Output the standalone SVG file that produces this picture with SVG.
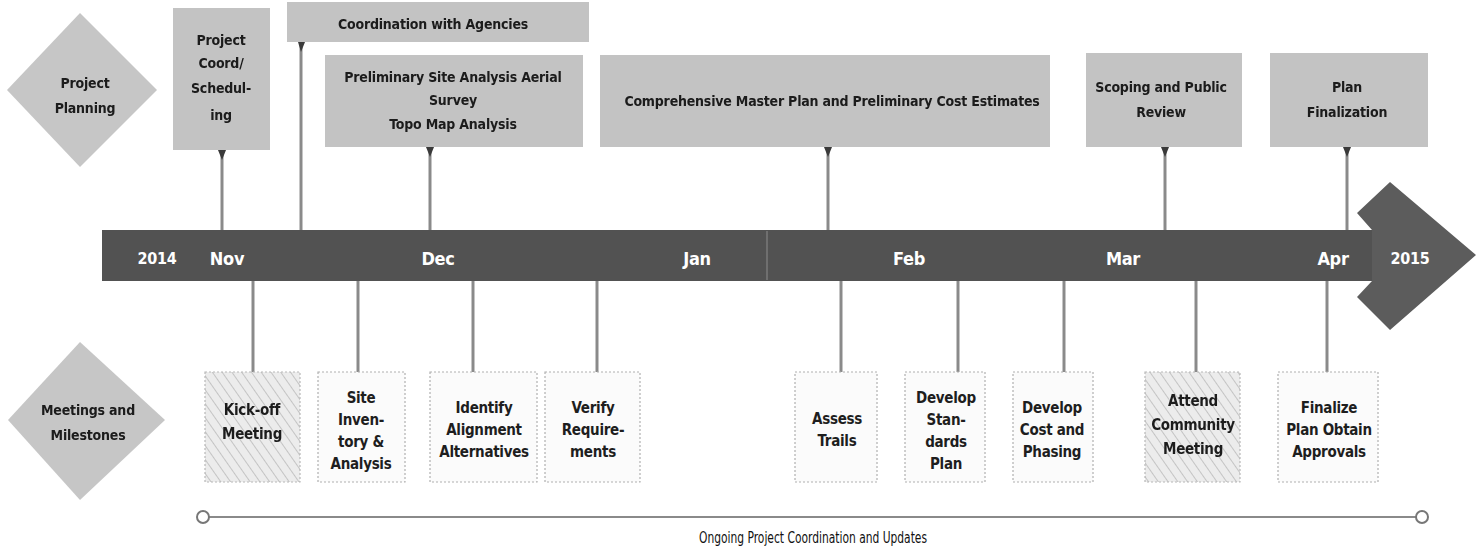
<svg xmlns="http://www.w3.org/2000/svg" width="1480" height="547" viewBox="0 0 1480 547">
<defs>
<pattern id="hatch" width="8" height="8" patternUnits="userSpaceOnUse" patternTransform="rotate(-35)">
<rect width="8" height="8" fill="#ececec"/>
<line x1="0" y1="0" x2="0" y2="8" stroke="#c4c4c4" stroke-width="2"/>
</pattern>
<filter id="soft" x="-5%" y="-20%" width="110%" height="140%"><feGaussianBlur stdDeviation="0.7"/></filter>
</defs>
<style>
text{font-family:"Liberation Sans Narrow","DejaVu Sans Condensed","Liberation Sans",sans-serif;font-weight:bold;text-anchor:middle}
.top{fill:#c3c3c3}
.tt{font-size:14px;letter-spacing:-0.2px;fill:#1a1a1a}
.dia{fill:#c6c6c6}
.bar{fill:#525252}
.tl{font-size:18px;fill:#ffffff;letter-spacing:-0.3px}
.bx{fill:#fbfbfb;stroke:#b0b0b0;stroke-width:1.2;stroke-dasharray:2 2}
.hb{fill:url(#hatch);stroke:#b8b8b8;stroke-width:1.2;stroke-dasharray:2 2}
.bt{font-size:15px;letter-spacing:-0.3px;fill:#1e1e1e}
.con{stroke:#8a8a8a;stroke-width:3;fill:none}
.tip{fill:#3a3a3a}
</style>

<g id="project-planning">
<polygon class="dia" points="80,13 157,90 80,167 7,90"/>
<text class="tt" x="85" y="88" filter="url(#soft)">Project</text>
<text class="tt" x="85" y="113" filter="url(#soft)">Planning</text>
</g>

<g id="project-coord">
<rect class="top" x="173" y="8" width="97" height="142"/>
<text class="tt" x="221" y="45" filter="url(#soft)">Project</text>
<text class="tt" x="221" y="68" filter="url(#soft)">Coord/</text>
<text class="tt" x="221" y="93" filter="url(#soft)">Schedul-</text>
<text class="tt" x="221" y="120" filter="url(#soft)">ing</text>
</g>

<g id="coordination-agencies">
<rect class="top" x="287" y="2" width="302" height="40"/>
<text class="tt" x="433" y="29" filter="url(#soft)">Coordination with Agencies</text>
</g>

<g id="preliminary-site">
<rect class="top" x="325" y="55" width="258" height="92"/>
<text class="tt" x="453" y="82" filter="url(#soft)">Preliminary Site Analysis Aerial</text>
<text class="tt" x="453" y="105" filter="url(#soft)">Survey</text>
<text class="tt" x="453" y="129" filter="url(#soft)">Topo Map Analysis</text>
</g>

<g id="comprehensive">
<rect class="top" x="600" y="55" width="450" height="92"/>
<text class="tt" x="832" y="106" filter="url(#soft)">Comprehensive Master Plan and Preliminary Cost Estimates</text>
</g>

<g id="scoping">
<rect class="top" x="1086" y="53" width="156" height="94"/>
<text class="tt" x="1161" y="92" filter="url(#soft)">Scoping and Public</text>
<text class="tt" x="1161" y="117" filter="url(#soft)">Review</text>
</g>

<g id="plan-finalization">
<rect class="top" x="1270" y="53" width="158" height="94"/>
<text class="tt" x="1347" y="92" filter="url(#soft)">Plan</text>
<text class="tt" x="1347" y="117" filter="url(#soft)">Finalization</text>
</g>

<g id="timeline">
<rect class="bar" x="102" y="230" width="1272" height="51"/>
<polygon fill="#5c5c5c" points="1372,230 1357,213 1390,182 1476,255 1390,330 1357,297 1372,281"/>
<line x1="767" y1="231" x2="767" y2="280" stroke="#8c8c8c" stroke-width="1"/>
<text class="tl" x="157" y="264" style="font-size:16px">2014</text>
<text class="tl" x="227" y="265">Nov</text>
<text class="tl" x="438" y="265">Dec</text>
<text class="tl" x="697" y="265">Jan</text>
<text class="tl" x="909" y="265">Feb</text>
<text class="tl" x="1123" y="265">Mar</text>
<text class="tl" x="1333" y="265">Apr</text>
<text class="tl" x="1410" y="264" style="font-size:16px">2015</text>
</g>

<g id="connectors">
<line class="con" x1="222" y1="150" x2="222" y2="230"/>
<line class="con" x1="301" y1="42" x2="301" y2="230"/>
<line class="con" x1="430" y1="147" x2="430" y2="230"/>
<line class="con" x1="828" y1="147" x2="828" y2="230"/>
<line class="con" x1="1165" y1="147" x2="1165" y2="230"/>
<line class="con" x1="1347" y1="147" x2="1347" y2="230"/>
<polygon class="tip" points="218,150 226,150 222,160"/>
<polygon class="tip" points="298,42 305,42 301,52"/>
<polygon class="tip" points="426,147 434,147 430,157"/>
<polygon class="tip" points="824,147 832,147 828,157"/>
<polygon class="tip" points="1161,147 1169,147 1165,157"/>
<polygon class="tip" points="1343,147 1351,147 1347,157"/>
<line class="con" x1="253" y1="281" x2="253" y2="372"/>
<line class="con" x1="358" y1="281" x2="358" y2="372"/>
<line class="con" x1="473" y1="281" x2="473" y2="372"/>
<line class="con" x1="597" y1="281" x2="597" y2="372"/>
<line class="con" x1="841" y1="281" x2="841" y2="372"/>
<line class="con" x1="958" y1="281" x2="958" y2="372"/>
<line class="con" x1="1064" y1="281" x2="1064" y2="372"/>
<line class="con" x1="1196" y1="281" x2="1196" y2="372"/>
<line class="con" x1="1327" y1="281" x2="1327" y2="372"/>
<line x1="209" y1="517" x2="1416" y2="517" stroke="#8a8a8a" stroke-width="2"/>
<circle cx="203" cy="517" r="6" fill="#fff" stroke="#777" stroke-width="2"/>
<circle cx="1422" cy="517" r="6" fill="#fff" stroke="#777" stroke-width="2"/>
<text x="813" y="543" textLength="228" lengthAdjust="spacingAndGlyphs" style="font-size:15px;font-weight:normal;fill:#111">Ongoing Project Coordination and Updates</text>
</g>

<g id="meetings-milestones">
<polygon class="dia" points="80,342 165,420 80,500 8,420"/>
<text class="tt" x="88" y="415" filter="url(#soft)">Meetings and</text>
<text class="tt" x="88" y="440" filter="url(#soft)">Milestones</text>
</g>

<g id="kickoff">
<rect class="hb" x="205" y="372" width="95" height="110"/>
<text class="bt" x="252" y="415" filter="url(#soft)">Kick-off</text>
<text class="bt" x="252" y="439" filter="url(#soft)">Meeting</text>
</g>
<g id="site-inventory">
<rect class="bx" x="318" y="372" width="87" height="110"/>
<text class="bt" x="361" y="403">Site</text>
<text class="bt" x="361" y="425">Inven-</text>
<text class="bt" x="361" y="447">tory &amp;</text>
<text class="bt" x="361" y="469">Analysis</text>
</g>
<g id="identify-alignment">
<rect class="bx" x="430" y="372" width="107" height="110"/>
<text class="bt" x="484" y="413">Identify</text>
<text class="bt" x="484" y="435">Alignment</text>
<text class="bt" x="484" y="457">Alternatives</text>
</g>
<g id="verify-requirements">
<rect class="bx" x="545" y="372" width="95" height="110"/>
<text class="bt" x="593" y="413">Verify</text>
<text class="bt" x="593" y="435">Require-</text>
<text class="bt" x="593" y="457">ments</text>
</g>
<g id="assess-trails">
<rect class="bx" x="795" y="372" width="82" height="110"/>
<text class="bt" x="837" y="424">Assess</text>
<text class="bt" x="837" y="446">Trails</text>
</g>
<g id="develop-standards">
<rect class="bx" x="905" y="372" width="80" height="110"/>
<text class="bt" x="946" y="403">Develop</text>
<text class="bt" x="946" y="425">Stan-</text>
<text class="bt" x="946" y="447">dards</text>
<text class="bt" x="946" y="469">Plan</text>
</g>
<g id="develop-cost">
<rect class="bx" x="1013" y="372" width="80" height="110"/>
<text class="bt" x="1052" y="413">Develop</text>
<text class="bt" x="1052" y="435">Cost and</text>
<text class="bt" x="1052" y="457">Phasing</text>
</g>
<g id="attend-community">
<rect class="hb" x="1145" y="372" width="95" height="110"/>
<text class="bt" x="1193" y="406" filter="url(#soft)">Attend</text>
<text class="bt" x="1193" y="430" filter="url(#soft)">Community</text>
<text class="bt" x="1193" y="454" filter="url(#soft)">Meeting</text>
</g>
<g id="finalize-plan">
<rect class="bx" x="1278" y="372" width="100" height="110"/>
<text class="bt" x="1329" y="413">Finalize</text>
<text class="bt" x="1329" y="435">Plan Obtain</text>
<text class="bt" x="1329" y="457">Approvals</text>
</g>
</svg>
